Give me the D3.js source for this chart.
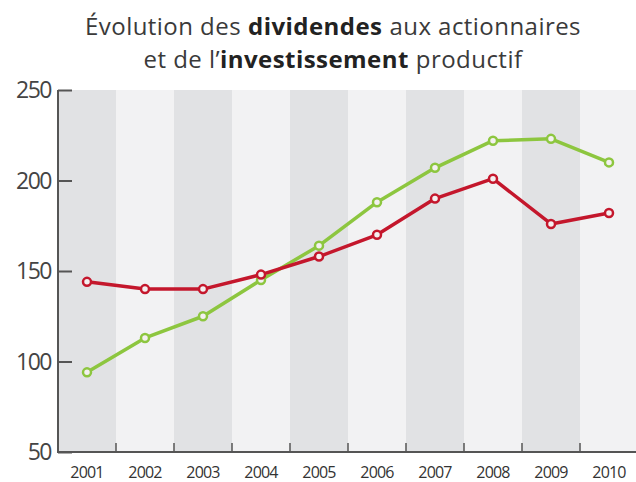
<!DOCTYPE html>
<html><head><meta charset="utf-8">
<script src="https://cdn.jsdelivr.net/npm/d3@7/dist/d3.min.js"></script>
<style>body{margin:0;background:#fff}svg{display:block}</style>
</head><body>
<script>
const years = [2001,2002,2003,2004,2005,2006,2007,2008,2009,2010];
const dividendes = [94,113,125,145,164,188,207,222,223,210];
const investissement = [144,140,140,148,158,170,190,201,176,182];
const yTicks = [50,100,150,200,250];
const titleLines = [
  [["Évolution des",false,7],["dividendes",true,7],["aux actionnaires",false,0]],
  [["et de l’",false,0],["investissement",true,7],["productif",false,0]]
];

const W=636,H=482;
const svg=d3.select("body").append("svg").attr("width",W).attr("height",H);

const x=d3.scaleBand().domain(years).range([58,638]).padding(0);
const y=d3.scaleLinear().domain([50,250]).range([452,90]);

// bands
svg.append("g").selectAll("rect").data(years).join("rect")
  .attr("x",d=>x(d)).attr("y",y(250)).attr("width",x.bandwidth()).attr("height",y(50)-y(250))
  .attr("fill",(d,i)=>i%2===0?"#e1e2e4":"#f2f2f3");

// title: each piece its own text element, placed side by side
const tg=svg.append("g");
const ls=0.45;
titleLines.forEach((parts,li)=>{
  const baseY = li===0?35:68;
  const els = parts.map(([s,b])=>tg.append("text").attr("y",baseY)
    .attr("font-family","Open Sans, sans-serif").attr("font-size",24).attr("letter-spacing",ls)
    .attr("font-weight",b?"bold":"normal").attr("fill",b?"#222":"#3a3a3a").text(s));
  const widths = els.map((e,i)=>e.node().getComputedTextLength()+parts[i][2]);
  const total = d3.sum(widths);
  let cx = 333 - total/2;
  els.forEach((e,i)=>{ e.attr("x",cx); cx+=widths[i]; });
});

// y axis
const ya=svg.append("g").attr("transform",`translate(58,0)`)
  .call(d3.axisRight(y).tickValues(yTicks).tickSize(14).tickFormat(""));
ya.select(".domain").attr("stroke","#555").attr("stroke-width",2).attr("d",`M0,${y(250)}V${y(50)}`);
ya.selectAll(".tick line").attr("stroke","#555").attr("stroke-width",2);
svg.append("g").selectAll("text").data(yTicks).join("text")
  .attr("x",51).attr("y",d=>y(d)+8).attr("text-anchor","end")
  .attr("font-family","Open Sans, sans-serif").attr("font-size",23).attr("letter-spacing",-1.5).attr("fill","#444")
  .text(d=>d);

// x axis
const xa=svg.append("g").attr("transform",`translate(0,${y(50)})`)
  .call(d3.axisTop(x).tickSize(0).tickFormat(""));
xa.select(".domain").attr("stroke","#555").attr("stroke-width",2).attr("d",`M57,0H636`);
svg.append("g").selectAll("line").data(years.slice(1)).join("line")
  .attr("x1",d=>x(d)).attr("x2",d=>x(d)).attr("y1",y(50)).attr("y2",y(50)-9)
  .attr("stroke","#555").attr("stroke-width",1.5);
svg.append("g").selectAll("text").data(years).join("text")
  .attr("x",d=>x(d)+x.bandwidth()/2).attr("y",478).attr("text-anchor","middle")
  .attr("font-family","Open Sans, sans-serif").attr("font-size",16).attr("letter-spacing",-0.8).attr("fill","#333")
  .text(d=>d);

const cx=d=>x(d)+x.bandwidth()/2;
function series(vals,color){
  const data=years.map((yr,i)=>({yr,v:vals[i]}));
  svg.append("path").datum(data).attr("fill","none").attr("stroke",color).attr("stroke-width",3.5)
    .attr("stroke-linejoin","round")
    .attr("d",d3.line().x(d=>cx(d.yr)).y(d=>y(d.v)));
  svg.append("g").selectAll("circle").data(data).join("circle")
    .attr("cx",d=>cx(d.yr)).attr("cy",d=>y(d.v)).attr("r",4)
    .attr("fill","#f4f0f0").attr("stroke",color).attr("stroke-width",2.5);
}
series(dividendes,"#8dc63f");
series(investissement,"#c4172c");
</script>
</body></html>
